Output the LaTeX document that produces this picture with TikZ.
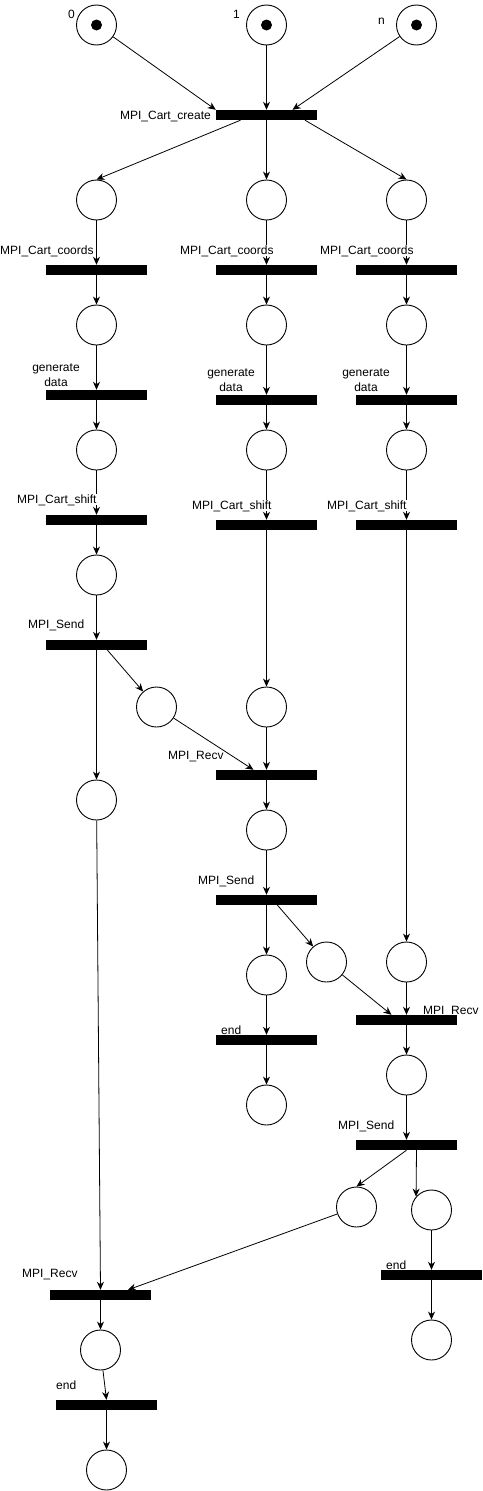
\documentclass[tikz,border=0pt]{standalone}
\usepackage{fontspec}
\setmainfont{Liberation Sans}
\usetikzlibrary{arrows.meta}
\begin{document}
\begin{tikzpicture}[x=1pt,y=-1pt,
 place/.style={circle,draw,line width=0.9pt,minimum size=40pt,inner sep=0pt},
 trans/.style={rectangle,fill=black,minimum width=101pt,minimum height=10pt,inner sep=0pt},
 lbl/.style={inner sep=0pt,font=\fontsize{12pt}{15pt}\selectfont},
 lblbg/.style={lbl,fill=white},
 arc/.style={-{Stealth[length=8pt,width=7pt,inset=2.5pt]},line width=0.8pt},
 token/.style={circle,fill=black,minimum size=11pt,inner sep=0pt}]
\useasboundingbox (0,0) rectangle (482,1491);
% places
\node[place] (p0) at (96.5,25) {};
\node[place] (p1) at (266.5,25) {};
\node[place] (pn) at (416.5,25) {};
\node[token] (k0) at (p0) {};
\node[token] (k1) at (p1) {};
\node[token] (kn) at (pn) {};
\node[place] (a0) at (96.5,200) {};
\node[place] (a1) at (266.5,200) {};
\node[place] (a2) at (406.5,200) {};
\node[place] (b0) at (96.5,325) {};
\node[place] (b1) at (266.5,325) {};
\node[place] (b2) at (406.5,325) {};
\node[place] (c0) at (96.5,450) {};
\node[place] (c1) at (266.5,450) {};
\node[place] (c2) at (406.5,450) {};
\node[place] (d0) at (96.5,575) {};
\node[place] (x0) at (156.5,707) {};
\node[place] (e1) at (266.5,707) {};
\node[place] (d1) at (96.5,800) {};
\node[place] (f1) at (266.5,830) {};
\node[place] (g1) at (266.5,975) {};
\node[place] (x1) at (326.5,962) {};
\node[place] (e2) at (406.5,962) {};
\node[place] (h1) at (266.5,1105) {};
\node[place] (f2) at (406.5,1075) {};
\node[place] (x2) at (356.5,1207) {};
\node[place] (g2) at (431.5,1210) {};
\node[place] (h2) at (431.5,1340) {};
\node[place] (f0) at (100.5,1350) {};
\node[place] (h0) at (106.5,1470) {};
% transitions
\node[trans] (tcr) at (266.5,115) {};
\node[trans] (tco0) at (96.5,270) {};
\node[trans] (tco1) at (266.5,270) {};
\node[trans] (tco2) at (406.5,270) {};
\node[trans] (tg0) at (96.5,395) {};
\node[trans] (tg1) at (266.5,400) {};
\node[trans] (tg2) at (406.5,400) {};
\node[trans] (ts0) at (96.5,520) {};
\node[trans] (ts1) at (266.5,525) {};
\node[trans] (ts2) at (406.5,525) {};
\node[trans] (tsd0) at (96.5,645) {};
\node[trans] (trv1) at (266.5,775) {};
\node[trans] (tsd1) at (266.5,900) {};
\node[trans] (trv2) at (406.5,1020) {};
\node[trans] (te1) at (266.5,1040) {};
\node[trans] (tsd2) at (406.5,1145) {};
\node[trans] (te2) at (431.5,1275) {};
\node[trans] (trv0) at (100.5,1295) {};
\node[trans] (te0) at (106.5,1405) {};
% arcs
\draw[arc] (p0) -- (tcr.north west);
\draw[arc] (p1) -- (tcr);
\draw[arc] (pn) -- ([xshift=26pt]tcr.north);
\draw[arc] ([xshift=-26pt]tcr.south) -- (a0.north);
\draw[arc] (tcr) -- (a1);
\draw[arc] ([xshift=38.5pt]tcr.south) -- (a2.north);
\foreach \i in {0,1,2}{
  \draw[arc] (a\i) -- (tco\i);
  \draw[arc] (tco\i) -- (b\i);
  \draw[arc] (b\i) -- (tg\i);
  \draw[arc] (tg\i) -- (c\i);
  \draw[arc] (c\i) -- (ts\i);
}
\draw[arc] (ts0) -- (d0);
\draw[arc] (d0) -- (tsd0);
\draw[arc] (tsd0) -- (d1);
\draw[arc] ([xshift=11pt]tsd0.south) -- (x0);
\draw[arc] (x0) -- ([xshift=-13pt]trv1.north);
\draw[arc] (ts1) -- (e1);
\draw[arc] (e1) -- (trv1);
\draw[arc] (trv1) -- (f1);
\draw[arc] (f1) -- (tsd1);
\draw[arc] (tsd1) -- (g1);
\draw[arc] ([xshift=11pt]tsd1.south) -- (x1);
\draw[arc] (g1) -- (te1);
\draw[arc] (te1) -- (h1);
\draw[arc] (ts2) -- (e2);
\draw[arc] (e2) -- (trv2);
\draw[arc] (x1) -- ([xshift=-15pt]trv2.north);
\draw[arc] (trv2) -- (f2);
\draw[arc] (f2) -- (tsd2);
\draw[arc] (tsd2.south) -- (x2.north);
\draw[arc] ([xshift=10pt]tsd2.south) -- (g2.139);
\draw[arc] (g2) -- (te2);
\draw[arc] (te2) -- (h2);
\draw[arc] (d1) -- (trv0.north);
\draw[arc] (x2) -- ([xshift=27.5pt]trv0.north);
\draw[arc] (trv0) -- (f0);
\draw[arc] (f0) -- (te0.north);
\draw[arc] (te0) -- (h0);
% labels
\node[lbl,anchor=base west] (l0) at (68,19) {0};
\node[lbl,anchor=base west] (l1) at (233,19) {1};
\node[lbl,anchor=base west] (ln) at (378,24) {n};
\node[lbl,anchor=base east] (lcr) at (211,119) {MPI\_Cart\_create};
\node[lblbg,anchor=base west] (lco0) at (0,254) {MPI\_Cart\_coords};
\node[lblbg,anchor=base west] (lco1) at (180,254) {MPI\_Cart\_coords};
\node[lblbg,anchor=base west] (lco2) at (320,254) {MPI\_Cart\_coords};
\node[lblbg,align=center] (lg0) at (56,375.5) {generate\\data};
\node[lblbg,align=center] (lg1) at (231,380.5) {generate\\data};
\node[lblbg,align=center] (lg2) at (366,380.5) {generate\\data};
\node[lblbg,anchor=base west] (ls0) at (17,503) {MPI\_Cart\_shift};
\node[lblbg,anchor=base west] (ls1) at (192,509) {MPI\_Cart\_shift};
\node[lblbg,anchor=base west] (ls2) at (327,509) {MPI\_Cart\_shift};
\node[lbl,anchor=base west] (lsd0) at (28,628) {MPI\_Send};
\node[lblbg,anchor=base west] (lrv1) at (168,759) {MPI\_Recv};
\node[lbl,anchor=base west] (lsd1) at (198,884) {MPI\_Send};
\node[lbl,anchor=base west] (lrv2) at (423,1014) {MPI\_Recv};
\node[lbl,anchor=base west] (le1) at (221,1034) {end};
\node[lbl,anchor=base west] (lsd2) at (338,1129) {MPI\_Send};
\node[lbl,anchor=base west] (lrv0) at (22,1277) {MPI\_Recv};
\node[lbl,anchor=base west] (le2) at (386,1269) {end};
\node[lbl,anchor=base west] (le0) at (56,1389) {end};
\end{tikzpicture}
\end{document}
